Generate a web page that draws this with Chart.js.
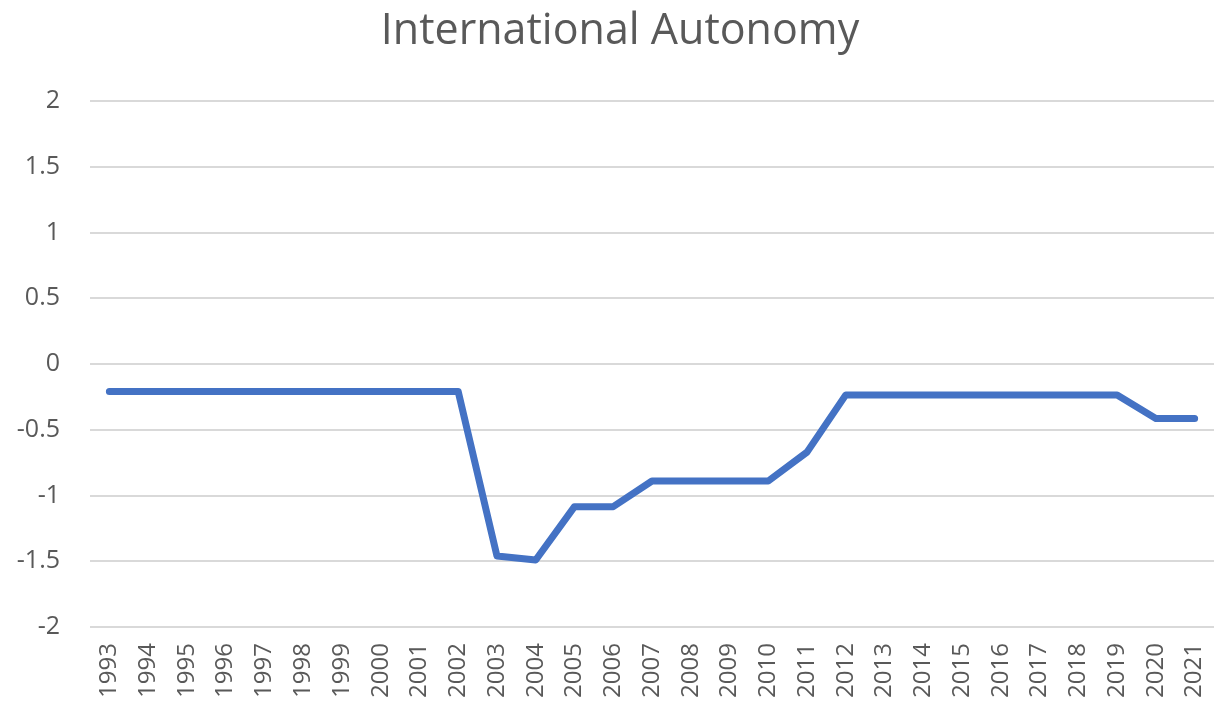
<!DOCTYPE html>
<html>
<head>
<meta charset="utf-8">
<title>International Autonomy</title>
<script src="https://cdn.jsdelivr.net/npm/chart.js@4"></script>
<style>
  html, body { margin: 0; padding: 0; background: #fff; }
  #wrap { width: 1222px; height: 710px; }
</style>
</head>
<body>
<div id="wrap"><canvas id="chart" width="1222" height="710"></canvas></div>
<script>
const years = ['1993', '1994', '1995', '1996', '1997', '1998', '1999', '2000', '2001', '2002',
    '2003', '2004', '2005', '2006', '2007', '2008', '2009', '2010', '2011', '2012',
    '2013', '2014', '2015', '2016', '2017', '2018', '2019', '2020', '2021'];
const autonomy = [-0.21, -0.21, -0.21, -0.21, -0.21, -0.21, -0.21, -0.21, -0.21, -0.21,
    -1.46, -1.49, -1.085, -1.085, -0.89, -0.89, -0.89, -0.89, -0.67, -0.235,
    -0.235, -0.235, -0.235, -0.235, -0.235, -0.235, -0.235, -0.415, -0.415];
const yTicks = [2, 1.5, 1, 0.5, 0, -0.5, -1, -1.5, -2];

const grey = '#595959';
const fontFamily = '"Open Sans", "Noto Sans", sans-serif';

// title in the original sits a bit right of the canvas centre
const shiftTitle = {
    id: 'shiftTitle',
    afterLayout(chart) {
        if (chart.titleBlock) chart.titleBlock.left = 26;
    }
};

const ctx = document.getElementById('chart').getContext('2d');
const chart = new Chart(ctx, {
    type: 'line',
    data: {
        labels: years,
        datasets: [{
            label: 'International Autonomy',
            data: autonomy,
            borderColor: '#4472C4',
            borderWidth: 7,
            borderCapStyle: 'round',
            borderJoinStyle: 'round',
            pointRadius: 0,
            tension: 0,
            fill: false
        }]
    },
    options: {
        responsive: false,
        animation: false,
        layout: { padding: { left: 0, right: 8, top: 0, bottom: 0 } },
        plugins: {
            legend: { display: false },
            tooltip: { enabled: false },
            title: {
                display: true,
                text: 'International Autonomy',
                color: grey,
                font: { family: fontFamily, size: 43, weight: 'normal', lineHeight: 1.2 },
                padding: { top: 6, bottom: 43.4 }
            }
        },
        scales: {
            x: {
                offset: true,
                grid: { display: false, drawTicks: false },
                border: { display: false },
                ticks: {
                    color: grey,
                    font: { family: fontFamily, size: 24 },
                    minRotation: 90,
                    maxRotation: 90,
                    autoSkip: false,
                    padding: 16
                },
                afterFit: scale => {
                    scale.height = 83;
                    scale.paddingLeft = 0;
                    scale.paddingRight = 0;
                }
            },
            y: {
                min: -2,
                max: 2,
                afterBuildTicks: scale => { scale.ticks = yTicks.map(v => ({ value: v })); },
                grid: { color: '#d9d9d9', lineWidth: 2, drawTicks: false },
                border: { display: false },
                ticks: {
                    color: grey,
                    font: { family: fontFamily, size: 25 },
                    padding: 30,
                    callback: value => String(value)
                },
                afterFit: scale => { scale.width = 90; }
            }
        }
    },
    plugins: [shiftTitle]
});
</script>
</body>
</html>
